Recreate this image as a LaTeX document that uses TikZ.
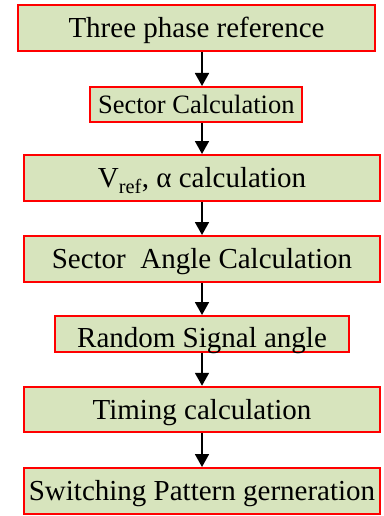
\documentclass[tikz,border=0pt]{standalone}
\usepackage{fontspec}
\setmainfont{Liberation Serif}
\newfontfamily\boxfont{Liberation Serif}
\usetikzlibrary{arrows.meta}
\definecolor{boxfill}{HTML}{D7E4BD}
\definecolor{boxline}{HTML}{FF0000}
\tikzset{
  flowbox/.style={draw=boxline, fill=boxfill, line width=2pt, inner sep=0pt,
    text depth=0pt, text height=19.2pt, font=\boxfont\fontsize{29}{32}\selectfont},
  flowarrow/.style={line width=1.8pt, -{Triangle[width=14pt,length=13pt]}}
}
\begin{document}
\begin{tikzpicture}[x=1pt,y=1pt]
\useasboundingbox (0,0) rectangle (383,-516);
\node[flowbox, minimum width=357pt, minimum height=46pt] (b1) at (196.5,-28) {Three phase reference};
\node[flowbox, minimum width=212pt, minimum height=35pt, text height=18pt, font=\boxfont\fontsize{26.5}{30}\selectfont] (b2) at (196.3,-104.5) {Sector Calculation};
\node[flowbox, minimum width=356pt, minimum height=46pt] (b3) at (202,-178) {V\textsubscript{ref}, α calculation};
\node[flowbox, minimum width=356pt, minimum height=46pt] (b4) at (202,-259) {Sector\ \ Angle Calculation};
\node[flowbox, minimum width=294pt, minimum height=36pt] (b5) at (202,-334) {\raisebox{-4pt}{Random Signal angle}};
\node[flowbox, minimum width=356pt, minimum height=45.5pt] (b6) at (202,-409.5) {Timing calculation};
\node[flowbox, minimum width=356pt, minimum height=46pt] (b7) at (202,-491) {Switching Pattern gerneration};
\draw[flowarrow] (b1.south -| b3.center) -- (b2.north -| b3.center);
\draw[flowarrow] (b2.south -| b3.center) -- (b3.north);
\draw[flowarrow] (b3.south) -- (b4.north);
\draw[flowarrow] (b4.south) -- (b5.north);
\draw[flowarrow] (b5.south) -- (b6.north);
\draw[flowarrow] (b6.south) -- (b7.north);
\end{tikzpicture}
\end{document}
